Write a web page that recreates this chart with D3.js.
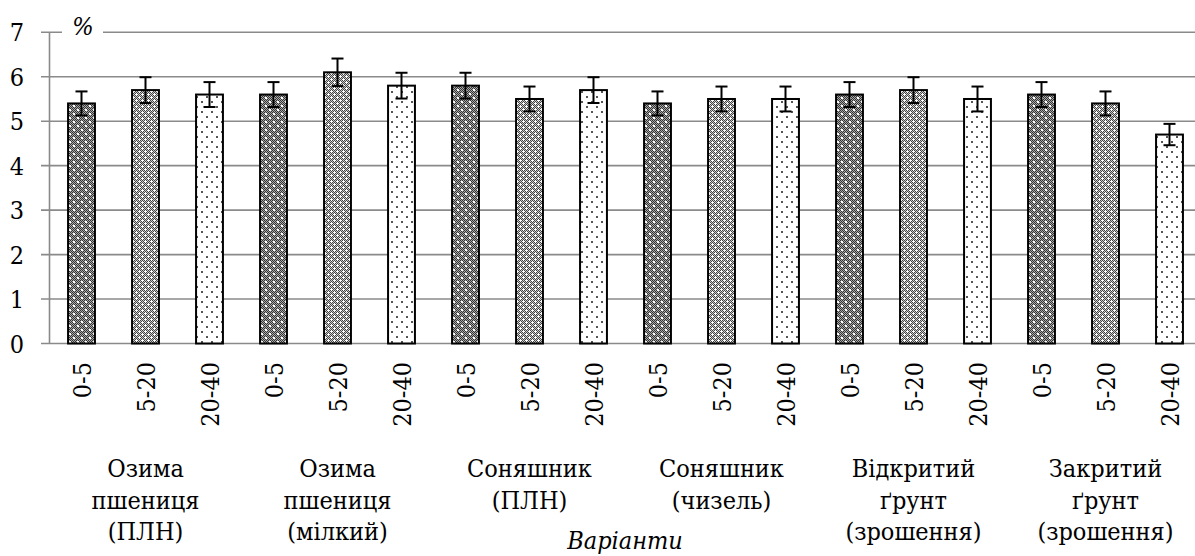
<!DOCTYPE html>
<html>
<head>
<meta charset="utf-8">
<script src="https://cdn.jsdelivr.net/npm/d3@7"></script>
<style>
  html, body { margin: 0; padding: 0; background: #fff; }
  svg { display: block; }
</style>
</head>
<body>
<svg id="chart" width="1195" height="556"></svg>
<script>
// Soil layer depths (cm) repeated for every variant
const depths = ["0-5", "5-20", "20-40"];
// Variants (groups of three bars)
const variants = [
  ["Озима", "пшениця", "(ПЛН)"],
  ["Озима", "пшениця", "(мілкий)"],
  ["Соняшник", "(ПЛН)"],
  ["Соняшник", "(чизель)"],
  ["Відкритий", "ґрунт", "(зрошення)"],
  ["Закритий", "ґрунт", "(зрошення)"]
];
// Bar values, %, in order variant by variant, depth by depth
const values = [5.4, 5.7, 5.6, 5.6, 6.1, 5.8, 5.8, 5.5, 5.7, 5.4, 5.5, 5.5, 5.6, 5.7, 5.5, 5.6, 5.4, 4.7];
// Error bar half-lengths, %
const errors = [0.27, 0.29, 0.28, 0.28, 0.31, 0.29, 0.29, 0.28, 0.29, 0.27, 0.28, 0.28, 0.28, 0.29, 0.28, 0.28, 0.27, 0.24];
// Y axis ticks
const yTicks = [0, 1, 2, 3, 4, 5, 6, 7];

const FONT = '"DejaVu Serif Condensed", "DejaVu Serif", serif';
const FS = 25;
const svg = d3.select("#chart");
const W = 1195, H = 556;
const plotLeft = 49.5, plotRight = 1201.5, plotTop = 32.3, plotBottom = 343.5;

const bars = values.map((v, i) => ({ i, v, e: errors[i], depth: depths[i % 3], d: i % 3 }));

const x = d3.scaleBand().domain(d3.range(values.length))
  .range([plotLeft, plotRight]).paddingInner(0.58).paddingOuter(0.29);
const y = d3.scaleLinear().domain([0, 7]).range([plotBottom, plotTop]);

// Fill patterns for the three depths
const defs = svg.append("defs");
function pixelPattern(id, size, fn) {
  const p = defs.append("pattern").attr("id", id)
    .attr("patternUnits", "userSpaceOnUse").attr("width", size).attr("height", size);
  for (let py = 0; py < size; py++) {
    for (let px = 0; px < size; px++) {
      p.append("rect").attr("x", px).attr("y", py).attr("width", 1).attr("height", 1)
        .attr("fill", fn(px, py));
    }
  }
}
// 0-5: dark checker with sparse white dots
pixelPattern("pat0", 8, (px, py) => {
  if ((px === 1 || px === 2) && (py === 1 || py === 2)) return "#ffffff";
  if ((px === 5 || px === 6) && (py === 5 || py === 6)) return "#ffffff";
  return (px + py) % 2 === 0 ? "#333333" : "#aaaaaa";
});
// 5-20: lighter lattice with white crosses
pixelPattern("pat1", 6, (px, py) => {
  const cx = 1, cy = 1, cx2 = 4, cy2 = 4;
  if ((px === cx && Math.abs(py - cy) <= 1) || (py === cy && Math.abs(px - cx) <= 1)) return "#ffffff";
  if ((px === cx2 && Math.abs(py - cy2) <= 1) || (py === cy2 && Math.abs(px - cx2) <= 1)) return "#ffffff";
  return (px + py) % 2 === 0 ? "#444444" : "#c8c8c8";
});
// 20-40: white with small staggered dots
pixelPattern("pat2", 10, (px, py) => {
  if ((px === 1 || px === 2) && (py === 1 || py === 2)) return "#555555";
  if ((px === 6 || px === 7) && (py === 6 || py === 7)) return "#555555";
  return "#ffffff";
});

// Horizontal gridlines with tick stubs
svg.append("g").selectAll("line").data(yTicks).join("line")
  .attr("x1", 41).attr("x2", W)
  .attr("y1", d => y(d)).attr("y2", d => y(d))
  .attr("stroke", "#8a8a8a").attr("stroke-width", 1.6);

// Y axis line
svg.append("line").attr("x1", plotLeft).attr("x2", plotLeft)
  .attr("y1", y(7)).attr("y2", y(0))
  .attr("stroke", "#8a8a8a").attr("stroke-width", 1.6);

// Y tick labels
svg.append("g").selectAll("text").data(yTicks).join("text")
  .attr("x", 24).attr("y", d => y(d)).attr("dy", "0.36em")
  .attr("text-anchor", "end").attr("font-size", FS).attr("font-family", FONT).attr("fill", "#000")
  .text(d => d);

// Unit label sitting in a gap of the top gridline
svg.append("rect").attr("x", 62).attr("y", y(7) - 4).attr("width", 41).attr("height", 8).attr("fill", "#fff");
svg.append("text").attr("x", 83).attr("y", 35).attr("text-anchor", "middle")
  .attr("font-size", FS).attr("font-family", FONT).attr("font-style", "italic").text("%");

// Bars
svg.append("g").selectAll("rect").data(bars).join("rect")
  .attr("x", d => x(d.i)).attr("width", x.bandwidth())
  .attr("y", d => y(d.v)).attr("height", d => y(0) - y(d.v))
  .attr("fill", d => `url(#pat${d.d})`)
  .attr("stroke", "#000").attr("stroke-width", 2);

// Error bars
const eb = svg.append("g").attr("stroke", "#000").attr("stroke-width", 2);
bars.forEach(d => {
  const cx = x(d.i) + x.bandwidth() / 2;
  eb.append("line").attr("x1", cx).attr("x2", cx).attr("y1", y(d.v + d.e)).attr("y2", y(d.v - d.e));
  eb.append("line").attr("x1", cx - 6).attr("x2", cx + 6).attr("y1", y(d.v + d.e)).attr("y2", y(d.v + d.e));
  eb.append("line").attr("x1", cx - 6).attr("x2", cx + 6).attr("y1", y(d.v - d.e)).attr("y2", y(d.v - d.e));
});

// Rotated depth labels
svg.append("g").selectAll("text").data(bars).join("text")
  .attr("transform", d => `translate(${x(d.i) + x.bandwidth() / 2 + 9},362) rotate(-90)`)
  .attr("text-anchor", "end").attr("font-size", FS).attr("font-family", FONT).text(d => d.depth);

// Variant labels, centred under the middle bar of each group
const vg = svg.append("g").attr("font-size", FS).attr("font-family", FONT).attr("text-anchor", "middle");
variants.forEach((lines, g) => {
  const cx = x(g * 3 + 1) + x.bandwidth() / 2;
  const t = vg.append("text").attr("x", cx).attr("y", 477);
  lines.forEach((ln, k) => {
    t.append("tspan").attr("x", cx).attr("y", 477 + k * 31.5).text(ln);
  });
});

// Axis title
svg.append("text").attr("x", 625).attr("y", 549).attr("text-anchor", "middle")
  .attr("font-size", FS).attr("font-family", FONT).attr("font-style", "italic").text("Варіанти");
</script>
</body>
</html>
